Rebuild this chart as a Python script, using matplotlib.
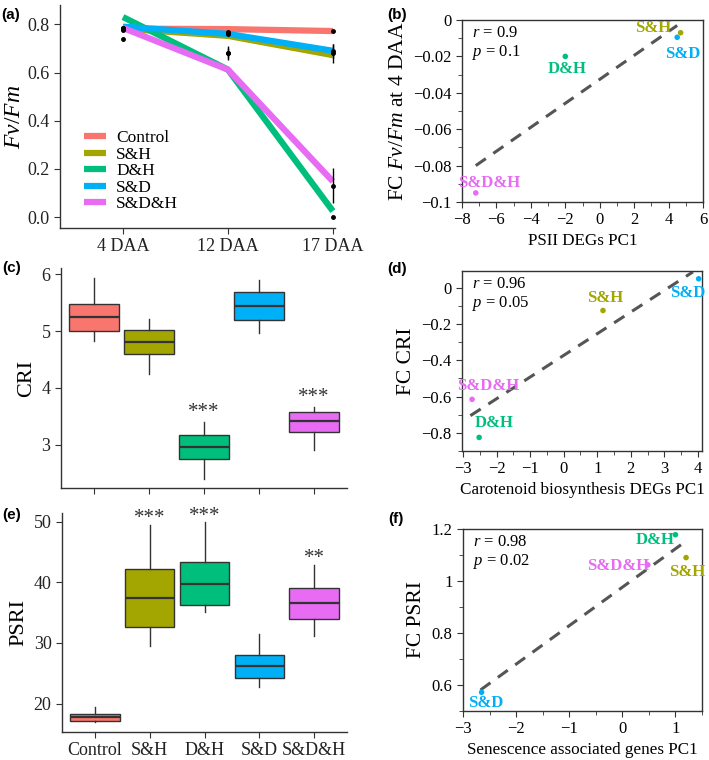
import numpy as np
import matplotlib
matplotlib.use("Agg")
import matplotlib.pyplot as plt

plt.rcParams['font.family'] = ['Liberation Serif', 'DejaVu Serif']
plt.rcParams['mathtext.fontset'] = 'custom'
plt.rcParams['mathtext.rm'] = 'Liberation Serif'
plt.rcParams['mathtext.it'] = 'Liberation Serif:italic'
plt.rcParams['mathtext.bf'] = 'Liberation Serif:bold'

groups = ['Control', 'S&H', 'D&H', 'S&D', 'S&D&H']
colors = ['#F8766D', '#A3A500', '#00BF7D', '#00B0F6', '#E76BF3']

# (a) Fv/Fm over time
days = ['4 DAA', '12 DAA', '17 DAA']
fvfm_lines = {
    'Control': [0.782, 0.780, 0.772],
    'S&H': [0.782, 0.752, 0.672],
    'D&H': [0.830, 0.612, 0.025],
    'S&D': [0.790, 0.760, 0.690],
    'S&D&H': [0.785, 0.612, 0.148],
}
fvfm_mean = {
    'Control': [0.786, 0.768, 0.772],
    'S&H': [0.780, 0.760, 0.680],
    'D&H': [0.740, 0.680, 0.002],
    'S&D': [0.784, 0.764, 0.690],
    'S&D&H': [0.778, 0.680, 0.130],
}
fvfm_se = {
    'Control': [0.004, 0.006, 0.004],
    'S&H': [0.006, 0.010, 0.040],
    'D&H': [0.008, 0.030, 0.002],
    'S&D': [0.006, 0.008, 0.030],
    'S&D&H': [0.006, 0.020, 0.072],
}

# (c) CRI boxplot stats: whislo, q1, med, q3, whishi
cri_stats = [
    [4.83, 5.00, 5.24, 5.48, 5.93],
    [4.25, 4.60, 4.81, 5.01, 5.21],
    [2.39, 2.74, 2.95, 3.16, 3.39],
    [4.97, 5.19, 5.44, 5.68, 5.89],
    [2.90, 3.23, 3.41, 3.58, 3.66],
]
cri_sig = ['', '', '***', '', '***']

# (e) PSRI boxplot stats
psri_stats = [
    [16.9, 17.15, 17.8, 18.3, 19.4],
    [29.45, 32.6, 37.4, 42.25, 49.45],
    [35.1, 36.2, 39.7, 43.3, 49.9],
    [22.75, 24.2, 26.15, 28.0, 31.4],
    [31.2, 34.0, 36.6, 39.1, 42.9],
]
psri_sig = ['', '***', '***', '', '**']

# scatter panels: order S&H, D&H, S&D, S&D&H
sc_groups = ['S&H', 'D&H', 'S&D', 'S&D&H']

# (b) FC Fv/Fm vs PSII DEGs PC1
b_x = [4.7, -2.0, 4.5, -7.2]
b_y = [-0.007, -0.020, -0.0095, -0.095]
b_fit_x = [-7.2, 4.5]
b_fit_y = [-0.080, -0.003]
b_lab = [(3.1, -0.0045), (-1.9, -0.027), (4.85, -0.0185), (-6.45, -0.0895)]

# (d) FC CRI vs carotenoid DEGs PC1
d_x = [1.17, -2.52, 4.02, -2.73]
d_y = [-0.125, -0.825, 0.05, -0.615]
d_fit_x = [-2.78, 3.85]
d_fit_y = [-0.705, 0.088]
d_lab = [(1.24, -0.058), (-2.07, -0.745), (3.69, -0.026), (-2.24, -0.544)]

# (f) FC PSRI vs senescence genes PC1
f_x = [1.2, 1.0, -2.65, 0.48]
f_y = [1.09, 1.178, 0.572, 1.062]
f_fit_x = [-2.67, 1.21]
f_fit_y = [0.581, 1.155]
f_lab = [(1.22, 1.033), (0.62, 1.159), (-2.58, 0.532), (-0.07, 1.058)]

W, H = 709, 760
fig = plt.figure(figsize=(W / 100, H / 100), dpi=100)


def rect(l, r, t, b):
    return [l / W, 1 - b / H, (r - l) / W, (b - t) / H]


def letter(txt, x, y):
    # panel letters placed in figure pixels (top-left of the text)
    fig.text(x / W, 1 - y / H, txt, fontsize=11, fontweight='bold',
             family='Liberation Sans', va='top', ha='left')


def classic(ax):
    ax.spines['top'].set_visible(False)
    ax.spines['right'].set_visible(False)
    for s in ax.spines.values():
        s.set_linewidth(1.0)
        s.set_color('#333333')
    ax.tick_params(labelsize=13, length=4, color='#333333', labelcolor='#222222')


# ---- (a)
ax = fig.add_axes(rect(60, 335, 5, 228))
xs = np.arange(1, 4)
for g, c in zip(groups, colors):
    ax.plot(xs, fvfm_lines[g], color=c, lw=4.5, label=g, solid_capstyle='butt', zorder=2)
for g in groups:
    ax.errorbar(xs, fvfm_mean[g], yerr=fvfm_se[g], fmt='o', color='black', ms=2.5,
                elinewidth=1, capsize=0, zorder=3)
ax.set_xlim(0.4, 3.02)
ax.set_ylim(-0.045, 0.88)
ax.set_xticks(xs, days)
ax.set_yticks([0, 0.2, 0.4, 0.6, 0.8], ['0.0', '0.2', '0.4', '0.6', '0.8'])
ax.set_ylabel(r'$\mathit{Fv/Fm}$', fontsize=17, labelpad=2)
classic(ax)
ax.legend(loc='lower left', bbox_to_anchor=(0.03, 0.0), frameon=False, fontsize=12.5,
          handlelength=1.3, labelspacing=0.02, handletextpad=0.55)
letter('(a)', 1, 8)


def boxes(ax, stats, sig, ylim, yticks, ylabel, labels, star_off):
    bs = []
    for s in stats:
        bs.append(dict(whislo=s[0], q1=s[1], med=s[2], q3=s[3], whishi=s[4], fliers=[]))
    pos = np.arange(1, 6)
    bp = ax.bxp(bs, positions=pos, widths=0.9, patch_artist=True, showcaps=False,
                boxprops=dict(edgecolor='#333333', linewidth=1.0),
                medianprops=dict(color='#333333', linewidth=1.6),
                whiskerprops=dict(color='#333333', linewidth=1.0))
    for patch, c in zip(bp['boxes'], colors):
        patch.set_facecolor(c)
    for p, s, t in zip(pos, stats, sig):
        if t:
            ax.text(p, s[4] + star_off, t, ha='center', va='bottom', fontsize=15,
                    color='#333333')
    ax.set_xlim(0.4, 5.6)
    ax.set_ylim(*ylim)
    ax.set_yticks(yticks)
    ax.set_xticks(pos, labels)
    ax.set_ylabel(ylabel, fontsize=16)
    classic(ax)


# ---- (c)
ax = fig.add_axes(rect(61, 347, 268, 488))
boxes(ax, cri_stats, cri_sig, (2.235, 6.11), [3, 4, 5, 6], 'CRI', [''] * 5, 0.0)
letter('(c)', 2, 261)

# ---- (e)
ax = fig.add_axes(rect(62, 347, 513, 732))
boxes(ax, psri_stats, psri_sig, (15.33, 51.4), [20, 30, 40, 50], 'PSRI', groups, -0.6)
letter('(e)', 2, 508)


def scatter(ax, xv, yv, fx, fy, labs, xlim, ylim, xticks, yticks, xminor, yminor,
            xlabel, ylabel, r, p):
    cols = [colors[groups.index(g)] for g in sc_groups]
    ax.scatter(xv, yv, c=cols, s=16, zorder=3, linewidths=0)
    ax.plot(fx, fy, ls=(0, (4, 3)), color='#555555', lw=2.2, zorder=2)
    for g, c, (lx, ly) in zip(sc_groups, cols, labs):
        ax.text(lx, ly, g, color=c, fontsize=12, fontweight='bold', ha='center',
                va='center')
    ax.set_xlim(*xlim)
    ax.set_ylim(*ylim)
    ax.set_xticks(xticks)
    ax.set_yticks(yticks)
    ax.set_xticks(xminor, minor=True)
    ax.set_yticks(yminor, minor=True)
    ax.set_xticklabels([('%g' % t).replace('-', '\u2212') for t in xticks])
    ax.set_yticklabels([('%g' % t).replace('-', '\u2212') for t in yticks])
    ax.set_xlabel(xlabel, fontsize=12.3, labelpad=3)
    ax.set_ylabel(ylabel, fontsize=15.5)
    for s in ax.spines.values():
        s.set_linewidth(1.0)
        s.set_color('#333333')
    ax.tick_params(labelsize=12, length=4, color='#333333')
    ax.tick_params(which='minor', length=3, color='#333333')
    ax.text(0.04, 0.93, r'$\mathit{r}$ = ' + r, transform=ax.transAxes, fontsize=12,
            va='center')
    ax.text(0.04, 0.82, r'$\mathit{p}$ = ' + p, transform=ax.transAxes, fontsize=12,
            va='center')


# ---- (b)
ax = fig.add_axes(rect(462, 703, 20, 202))
scatter(ax, b_x, b_y, b_fit_x, b_fit_y, b_lab, (-8, 6), (-0.1, 0),
        [-8, -6, -4, -2, 0, 2, 4, 6], [-0.1, -0.08, -0.06, -0.04, -0.02, 0],
        np.arange(-7, 6, 2), np.arange(-0.09, 0, 0.02),
        'PSII DEGs PC1', r'FC $\mathit{Fv/Fm}$ at 4 DAA', '0.9', '0.1')
letter('(b)', 387, 8)

# ---- (d)
ax = fig.add_axes(rect(462, 702, 271, 451))
scatter(ax, d_x, d_y, d_fit_x, d_fit_y, d_lab, (-3.03, 4.12), (-0.897, 0.093),
        [-3, -2, -1, 0, 1, 2, 3, 4], [-0.8, -0.6, -0.4, -0.2, 0],
        np.arange(-2.5, 4, 1), np.arange(-0.9, 0.05, 0.2),
        'Carotenoid biosynthesis DEGs PC1', 'FC CRI', '0.96', '0.05')
letter('(d)', 387, 262)

# ---- (f)
ax = fig.add_axes(rect(463, 702, 529, 711))
scatter(ax, f_x, f_y, f_fit_x, f_fit_y, f_lab, (-3, 1.5), (0.5, 1.2),
        [-3, -2, -1, 0, 1], [0.6, 0.8, 1.0, 1.2],
        np.arange(-2.5, 1.6, 1), [0.5, 0.7, 0.9, 1.1],
        'Senescence associated genes PC1', 'FC PSRI', '0.98', '0.02')
ax.set_yticklabels(['0.6', '0.8', '1', '1.2'])
letter('(f)', 388, 512)

fig.savefig('out.png', dpi=100)
